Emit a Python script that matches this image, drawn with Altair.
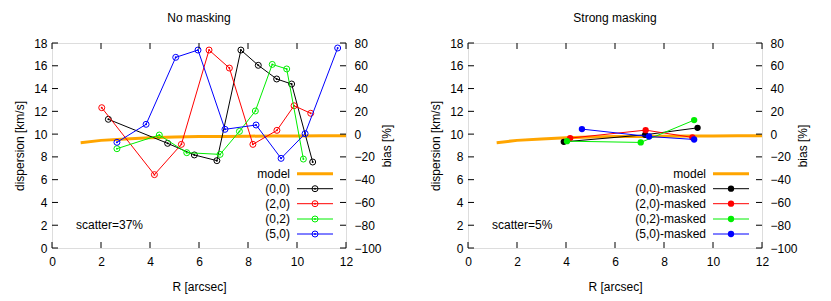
import altair as alt
import pandas as pd

FONT = "Liberation Sans"

# ---------------- data ----------------
R_ticks = [0, 2, 4, 6, 8, 10, 12]
disp_ticks = [0, 2, 4, 6, 8, 10, 12, 14, 16, 18]
bias_ticks = [-100, -80, -60, -40, -20, 0, 20, 40, 60, 80]

model_R = [1.17, 2, 3, 4, 5, 6, 7, 8, 9, 10, 11, 12]
model_disp = [9.25, 9.45, 9.58, 9.68, 9.74, 9.78, 9.80, 9.82, 9.83, 9.84, 9.85, 9.86]

series_names = ["(0,0)", "(2,0)", "(0,2)", "(5,0)"]
series_colors = ["#000000", "#ff0000", "#00ee00", "#0000ff"]

# No masking
nm_00_R = [2.30, 4.72, 5.81, 6.73, 7.71, 8.42, 9.17, 9.78, 10.64]
nm_00_d = [11.30, 9.19, 8.17, 7.67, 17.38, 16.04, 14.84, 14.40, 7.55]
nm_20_R = [2.03, 4.18, 5.28, 6.41, 7.24, 8.20, 9.18, 9.88, 10.56]
nm_20_d = [12.32, 6.44, 9.10, 17.38, 15.80, 9.10, 10.33, 12.49, 11.83]
nm_02_R = [2.65, 4.38, 5.50, 6.86, 7.65, 8.30, 8.99, 9.58, 10.26]
nm_02_d = [8.72, 9.92, 8.37, 8.22, 10.24, 12.03, 16.12, 15.72, 7.81]
nm_50_R = [2.65, 3.84, 5.05, 5.96, 7.06, 8.33, 9.35, 10.33, 11.66]
nm_50_d = [9.28, 10.86, 16.74, 17.38, 10.42, 10.80, 7.87, 10.04, 17.56]

# Strong masking
sm_00_R = [3.91, 7.23, 9.37]
sm_00_d = [9.32, 9.94, 10.55]
sm_20_R = [4.17, 7.25, 9.16]
sm_20_d = [9.65, 10.35, 9.71]
sm_02_R = [4.04, 7.05, 9.23]
sm_02_d = [9.38, 9.27, 11.23]
sm_50_R = [4.65, 7.39, 9.23]
sm_50_d = [10.44, 9.79, 9.53]

W, H = 294, 205


def make_df(Rs, ds, names):
    rows = []
    for name, r, d in zip(names, Rs, ds):
        for i, (a, b) in enumerate(zip(r, d)):
            rows.append({"series": name, "R": a, "disp": b, "i": i})
    return pd.DataFrame(rows)


xscale = alt.Scale(domain=[0, 12], nice=False, zero=False)
yscale = alt.Scale(domain=[0, 18], nice=False, zero=False)

axis_common = dict(ticks=False, domain=False, grid=False, labelOverlap=False, labelFlush=False,
                   titleFontWeight="normal", labelFont=FONT, titleFont=FONT,
                   labelFontSize=12, titleFontSize=12, labelColor="#000000", titleColor="#000000")


def X():
    return alt.X("R:Q", scale=xscale, title="R [arcsec]",
                 axis=alt.Axis(values=R_ticks, labelPadding=8, titlePadding=14, **axis_common))


def Y():
    return alt.Y("disp:Q", scale=yscale, title="dispersion [km/s]",
                 axis=alt.Axis(values=disp_ticks, labelPadding=5, titlePadding=7, **axis_common))


def panel(df, title, suffix, scatter_txt, open_markers):
    labels = [n + suffix for n in series_names]
    color = alt.Color("series:N", scale=alt.Scale(domain=series_names, range=series_colors), legend=None)

    model_df = pd.DataFrame({"R": model_R, "disp": model_disp})
    model = alt.Chart(model_df).mark_line(color="#ffa500", strokeWidth=3).encode(x=X(), y=Y())

    layers = [model]
    for name in series_names:
        sub = df[df.series == name]
        layers.append(alt.Chart(sub).mark_line(strokeWidth=1).encode(
            x=X(), y=Y(), color=color, order="i:Q"))
        if open_markers:
            layers.append(alt.Chart(sub).mark_point(shape="circle", filled=False, size=36, strokeWidth=1, opacity=1).encode(
                x=X(), y=Y(), color=color))
            layers.append(alt.Chart(sub).mark_point(shape="circle", filled=True, size=4, opacity=1).encode(
                x=X(), y=Y(), color=color))
        else:
            layers.append(alt.Chart(sub).mark_point(shape="circle", filled=True, size=40, opacity=1).encode(
                x=X(), y=Y(), color=color))

    # inward ticks
    xt = pd.DataFrame({"R": R_ticks})
    yt = pd.DataFrame({"disp": disp_ticks})
    tick_style = dict(color="#000000", strokeWidth=1)
    layers.append(alt.Chart(xt).mark_rule(**tick_style).encode(
        x=X(), y=alt.value(H), y2=alt.value(H - 6)))
    layers.append(alt.Chart(xt).mark_rule(**tick_style).encode(
        x=X(), y=alt.value(0), y2=alt.value(6)))
    layers.append(alt.Chart(yt).mark_rule(**tick_style).encode(
        y=Y(), x=alt.value(0), x2=alt.value(6)))
    layers.append(alt.Chart(yt).mark_rule(**tick_style).encode(
        y=Y(), x=alt.value(W), x2=alt.value(W - 6)))

    # key
    rows_y = [130.7, 145.7, 160.7, 176.0, 191.0]
    key_labels = ["model"] + labels
    key_colors = ["#ffa500"] + series_colors
    for k, (lab, col, yy) in enumerate(zip(key_labels, key_colors, rows_y)):
        kd = pd.DataFrame({"t": [lab]})
        layers.append(alt.Chart(kd).mark_text(
            align="right", baseline="middle", fontSize=12, font=FONT, color="#000000").encode(
            text="t:N", x=alt.value(238), y=alt.value(yy)))
        layers.append(alt.Chart(kd).mark_rule(
            color=col, strokeWidth=3 if k == 0 else 1).encode(
            x=alt.value(245), x2=alt.value(281), y=alt.value(yy)))
        if k > 0:
            if open_markers:
                layers.append(alt.Chart(kd).mark_point(
                    shape="circle", filled=False, size=36, strokeWidth=1, color=col, opacity=1).encode(
                    x=alt.value(263), y=alt.value(yy)))
                layers.append(alt.Chart(kd).mark_point(
                    shape="circle", filled=True, size=4, color=col, opacity=1).encode(
                    x=alt.value(263), y=alt.value(yy)))
            else:
                layers.append(alt.Chart(kd).mark_point(
                    shape="circle", filled=True, size=40, color=col, opacity=1).encode(
                    x=alt.value(263), y=alt.value(yy)))

    layers.append(alt.Chart(pd.DataFrame({"t": [scatter_txt]})).mark_text(
        align="left", baseline="middle", fontSize=12, font=FONT, color="#000000").encode(
        text="t:N", x=alt.value(24), y=alt.value(182)))

    inner = alt.layer(*layers)

    bias_layer = alt.Chart(pd.DataFrame({"bias": [-100, 80]})).mark_point(opacity=0).encode(
        y=alt.Y("bias:Q", scale=alt.Scale(domain=[-100, 80], nice=False, zero=False), title="bias [%]",
                axis=alt.Axis(orient="right", values=bias_ticks, labelPadding=8, titlePadding=12,
                              titleAngle=270, labelAlign="left", **axis_common)),
    )

    return alt.layer(inner, bias_layer).resolve_scale(y="independent").properties(
        width=W, height=H,
        title=alt.TitleParams(title, fontSize=12, font=FONT, fontWeight="normal", frame="group",
                              anchor="middle", offset=12, color="#000000"),
    )


df_nm = make_df([nm_00_R, nm_20_R, nm_02_R, nm_50_R], [nm_00_d, nm_20_d, nm_02_d, nm_50_d], series_names)
df_sm = make_df([sm_00_R, sm_20_R, sm_02_R, sm_50_R], [sm_00_d, sm_20_d, sm_02_d, sm_50_d], series_names)

left = panel(df_nm, "No masking", "", "scatter=37%", True)
right = panel(df_sm, "Strong masking", "-masked", "scatter=5%", False)

chart = alt.hconcat(left, right, spacing=36).properties(
    padding={"left": 5, "top": 3, "right": 5, "bottom": 5}
).configure_view(
    stroke="#000000", strokeWidth=1
).configure(background="#ffffff")

chart.save("out.html", embed_options={"renderer": "svg", "actions": False})
